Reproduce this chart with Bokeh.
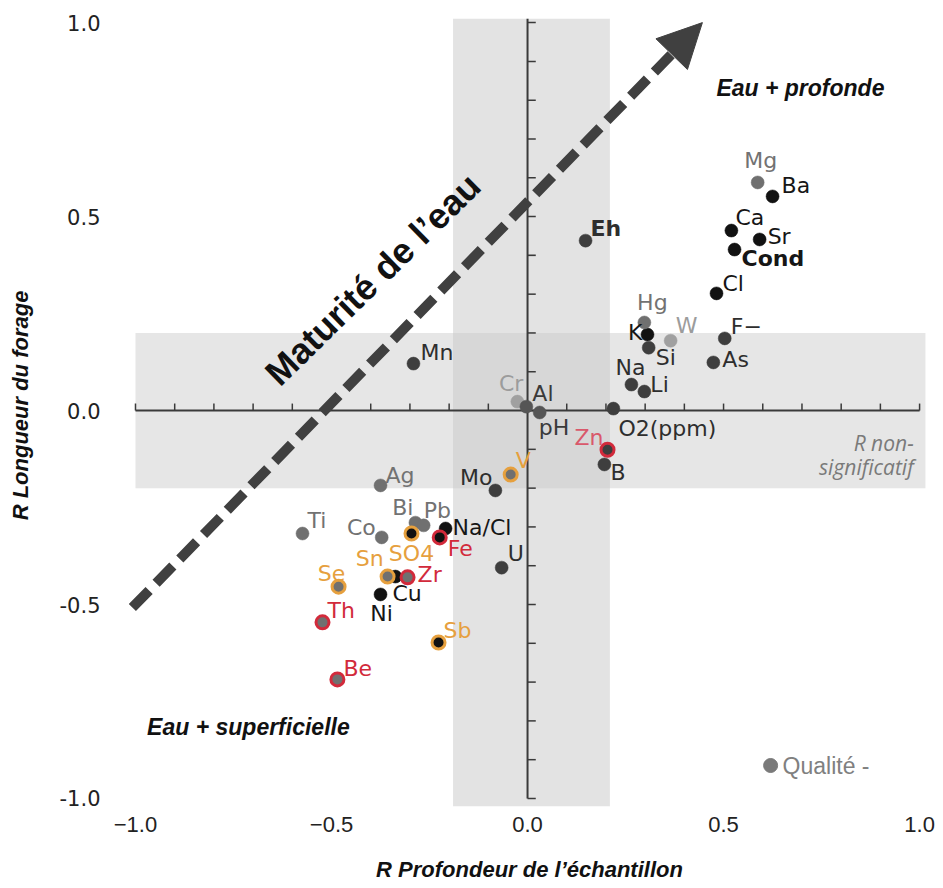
import numpy as np
from bokeh.plotting import figure
from bokeh.models import ColumnDataSource, BoxAnnotation, Arrow, NormalHead, FixedTicker
from bokeh.core.properties import value
from bokeh.embed import file_html
from bokeh.resources import INLINE

# ---------------- data ----------------
NAMES = ["Cu", "K", "Mg", "Ba", "Ca", "Sr", "Cond", "Cl", "Eh", "Hg", "W", "Si", "F\u2212",
         "As", "Na", "Li", "O2(ppm)", "Mn", "Cr", "Al", "pH", "Zn", "B", "V", "Mo", "Ag",
         "Ti", "Co", "Bi", "Pb", "Na/Cl", "SO4", "Fe", "U", "Sn", "Zr", "Ni", "Se", "Th",
         "Sb", "Be"]
R_DEPTH = [-0.337, 0.306, 0.587, 0.625, 0.520, 0.592, 0.528, 0.482, 0.148, 0.298, 0.365,
           0.309, 0.503, 0.474, 0.265, 0.298, 0.219, -0.291, -0.026, -0.003, 0.031, 0.204,
           0.196, -0.043, -0.082, -0.375, -0.574, -0.372, -0.286, -0.265, -0.209, -0.296,
           -0.224, -0.066, -0.357, -0.306, -0.375, -0.482, -0.523, -0.227, -0.485]
R_LENGTH = [-0.428, 0.196, 0.588, 0.552, 0.464, 0.441, 0.415, 0.302, 0.438, 0.227, 0.180,
            0.162, 0.186, 0.124, 0.067, 0.049, 0.005, 0.121, 0.023, 0.010, -0.005, -0.101,
            -0.139, -0.165, -0.206, -0.193, -0.317, -0.327, -0.289, -0.296, -0.304, -0.317,
            -0.327, -0.405, -0.428, -0.430, -0.474, -0.454, -0.546, -0.598, -0.693]
TONE = ["black", "black", "gray", "black", "black", "black", "black", "black", "dark", "gray",
        "light", "dark", "dark", "dark", "dark", "dark", "dark", "dark", "light", "mid", "mid",
        "dark", "dark", "gray", "dark", "gray", "gray", "gray", "gray", "gray", "black",
        "black", "black", "dark", "gray", "gray", "black", "gray", "gray", "black", "gray"]
RING = ["none", "none", "none", "none", "none", "none", "none", "none", "none", "none", "none",
        "none", "none", "none", "none", "none", "none", "none", "none", "none", "none", "red",
        "none", "orange", "none", "none", "none", "none", "none", "none", "none", "orange",
        "red", "none", "orange", "red", "none", "orange", "red", "orange", "red"]

X_TICKS = [-1.0, -0.5, 0.0, 0.5, 1.0]
X_TICK_LABELS = ["\u22121.0", "\u22120.5", "0.0", "0.5", "1.0"]
Y_TICKS = [-1.0, -0.5, 0.0, 0.5, 1.0]
Y_TICK_LABELS = ["-1.0", "-0.5", "0.0", "0.5", "1.0"]

# ---------------- styles / layout ----------------
FILL = {"black": "#121212", "dark": "#3e3e3e", "mid": "#555555", "gray": "#707070", "light": "#a0a0a0"}
RING_COL = {"orange": "#E6A03E", "red": "#D22A3B"}
LABEL_TONE = {"black": "#161616", "dark": "#2e2e2e", "mid": "#3a3a3a", "gray": "#727272", "light": "#9c9c9c"}
BOLD = {"Eh", "Cond"}
# label anchor: (align, dx px, dy px screen-down)
LABEL_LAYOUT = {
    "Mg": ("center", 3, -22), "Ba": ("left", 9, -11), "Ca": ("left", 4, -13), "Sr": ("left", 8, -3),
    "Cond": ("left", 7, 9), "Cl": ("left", 6, -10), "Eh": ("left", 5, -12), "Hg": ("center", 8, -20),
    "K": ("right", -5, -2), "W": ("left", 5, -15), "Si": ("left", 7, 10), "F\u2212": ("left", 6, -12),
    "As": ("left", 9, -3), "Na": ("center", -1, -17), "Li": ("left", 6, -7), "O2(ppm)": ("left", 5, 20),
    "Mn": ("left", 7, -11), "Cr": ("right", 6, -18), "Al": ("left", 6, -13), "pH": ("left", -1, 15),
    "Zn": ("right", -4, -12), "B": ("left", 6, 8), "V": ("left", 5, -14), "Mo": ("right", -3, -13),
    "Ag": ("left", 5, -10), "Ti": ("left", 5, -13), "Co": ("right", -6, -10), "Bi": ("right", -2, -15),
    "Pb": ("left", 0, -15), "Na/Cl": ("left", 7, -1), "SO4": ("center", 0, 20), "Fe": ("left", 8, 11),
    "U": ("left", 6, -14), "Sn": ("right", -4, -18), "Zr": ("left", 10, -3), "Cu": ("left", -3, 17),
    "Ni": ("center", 1, 19), "Se": ("center", -7, -13), "Th": ("left", 5, -12), "Sb": ("left", 5, -12),
    "Be": ("left", 6, -11),
}

p = figure(width=943, height=888, x_range=(-1.051, 1.061), y_range=(-1.031, 1.057),
           output_backend="svg", toolbar_location=None,
           min_border_left=115, min_border_right=0, min_border_top=0, min_border_bottom=78)
p.outline_line_color = None
p.grid.visible = False
p.background_fill_color = "white"
p.border_fill_color = "white"

# axes: labels only at the frame edges
p.xaxis.ticker = FixedTicker(ticks=X_TICKS)
p.xaxis.major_label_overrides = {t: s for t, s in zip(X_TICKS, X_TICK_LABELS)}
p.yaxis.ticker = FixedTicker(ticks=Y_TICKS)
p.yaxis.major_label_overrides = {t: s for t, s in zip(Y_TICKS, Y_TICK_LABELS)}
for ax in (p.xaxis, p.yaxis):
    ax.axis_line_color = None
    ax.major_tick_line_color = None
    ax.minor_tick_line_color = None
    ax.major_tick_out = 0
    ax.major_tick_in = 0
    ax.minor_tick_out = 0
    ax.minor_tick_in = 0
    ax.major_label_text_color = "#222222"
    ax.axis_label_text_font = "Liberation Sans"
    ax.axis_label_text_font_style = "bold italic"
    ax.axis_label_text_font_size = "22px"
    ax.axis_label_text_color = "#111111"
p.xaxis.major_label_text_font = "Liberation Sans"
p.xaxis.major_label_text_font_size = "22px"
p.xaxis.major_label_standoff = 6
p.xaxis.axis_label = "R Profondeur de l\u2019\u00e9chantillon"
p.xaxis.axis_label_standoff = 22
p.yaxis.major_label_text_font = "DejaVu Sans"
p.yaxis.major_label_text_font_size = "21px"
p.yaxis.major_label_standoff = 15
p.yaxis.axis_label = "R Longueur du forage"
p.yaxis.axis_label_standoff = 24

# non-significant bands
p.add_layout(BoxAnnotation(left=-0.19, right=0.21, bottom=-1.02, top=1.01, fill_color="#c8c8c8",
                           fill_alpha=0.5, line_alpha=0, level="underlay"))
p.add_layout(BoxAnnotation(left=-1.0, right=1.015, bottom=-0.2, top=0.2, fill_color="#c8c8c8",
                           fill_alpha=0.45, line_alpha=0, level="underlay"))

# cross axes with ticks
AX_COL = "#3a3a3a"
tv = np.round(np.arange(-1.0, 1.0001, 0.1), 2)
p.segment(x0=[-1.0], y0=[0.0], x1=[1.0], y1=[0.0], line_color=AX_COL, line_width=2)
p.segment(x0=[0.0], y0=[-1.0], x1=[0.0], y1=[1.01], line_color=AX_COL, line_width=2)
p.segment(x0=tv, y0=np.zeros_like(tv), x1=tv, y1=np.full_like(tv, 0.018), line_color=AX_COL, line_width=1.5)
p.segment(x0=np.zeros_like(tv), y0=tv, x1=np.full_like(tv, 0.021), y1=tv, line_color=AX_COL, line_width=1.5)

# maturity arrow
p.add_layout(Arrow(end=NormalHead(size=44, fill_color="#404040", line_color="#404040", line_width=1),
                   x_start=-1.008, y_start=-0.508, x_end=0.446, y_end=1.0,
                   line_color="#404040", line_width=10, line_dash="24 10"))
p.text(x=[-0.395], y=[0.338], text=["Maturit\u00e9 de l\u2019eau"], angle=0.775,
       text_font=value("Liberation Sans"), text_font_style="bold", text_font_size="36px",
       text_align="center", text_baseline="middle", text_color="#111111")

# points
fill = [FILL[t] for t in TONE]
line = [RING_COL[r] if r != "none" else FILL[t] for t, r in zip(TONE, RING)]
lw = [3 if r != "none" else 0.5 for r in RING]
src = ColumnDataSource(dict(x=R_DEPTH, y=R_LENGTH, name=NAMES, fill=fill, line=line, lw=lw))
p.scatter("x", "y", source=src, size=13, fill_color="fill", line_color="line", line_width="lw")

# point labels
groups = {}
for n, x, y, t, r in zip(NAMES, R_DEPTH, R_LENGTH, TONE, RING):
    al, dx, dy = LABEL_LAYOUT[n]
    col = RING_COL[r] if r != "none" else LABEL_TONE[t]
    if n == "Zn":
        col = "#D9586B"
    st = "bold" if n in BOLD else "normal"
    g = groups.setdefault((al, st), dict(x=[], y=[], text=[], dx=[], dy=[], color=[]))
    g["x"].append(x); g["y"].append(y); g["text"].append(n)
    g["dx"].append(dx); g["dy"].append(dy); g["color"].append(col)
for (al, st), g in groups.items():
    p.text(x="x", y="y", text="text", x_offset="dx", y_offset="dy", text_color="color",
           source=ColumnDataSource(g), text_align=al, text_baseline="middle",
           text_font=value("DejaVu Sans"), text_font_size="22px", text_font_style=st)

# annotations
p.text(x=[0.696], y=[0.832], text=["Eau + profonde"], text_font=value("Liberation Sans"),
       text_font_style="bold italic", text_font_size="23px", text_align="center",
       text_baseline="middle", text_color="#111111")
p.text(x=[-0.712], y=[-0.817], text=["Eau + superficielle"], text_font=value("Liberation Sans"),
       text_font_style="bold italic", text_font_size="23px", text_align="center",
       text_baseline="middle", text_color="#111111")
p.text(x=[0.985, 0.985], y=[-0.083, -0.146], text=["R non-", "significatif"],
       text_font=value("Open Sans"), text_font_style="italic", text_font_size="21px",
       text_align="right", text_baseline="middle", text_color="#7a7a7a")
p.scatter(x=[0.620], y=[-0.915], size=14, fill_color="#7a7a7a", line_color="#7a7a7a")
p.text(x=[0.620], y=[-0.915], x_offset=[12], text=["Qualit\u00e9 -"], text_font=value("Liberation Sans"),
       text_font_size="23px", text_align="left", text_baseline="middle", text_color="#808080")

open("out.html", "w").write(file_html(p, INLINE))
